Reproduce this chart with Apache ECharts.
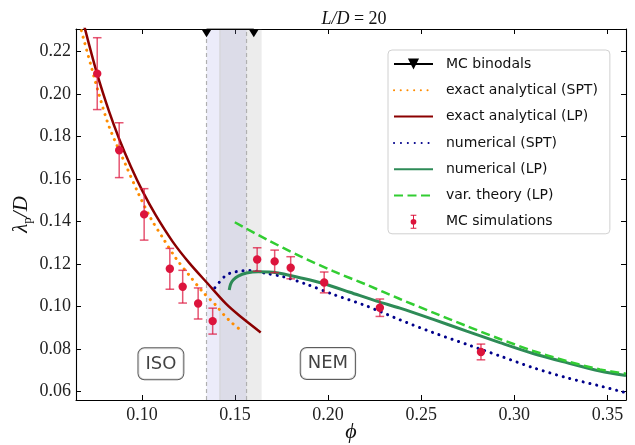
<!DOCTYPE html>
<html>
<head>
<meta charset="utf-8">
<script src="https://cdn.jsdelivr.net/npm/echarts@6/dist/echarts.min.js"></script>
<style>
  html, body { margin: 0; padding: 0; background: #fff; }
  #chart { width: 635px; height: 445px; }
</style>
</head>
<body>
<div id="chart"></div>
<script>
// tick values
const xTicks = [0.10, 0.15, 0.20, 0.25, 0.30, 0.35];
const yTicks = [0.06, 0.08, 0.10, 0.12, 0.14, 0.16, 0.18, 0.20, 0.22];

// curves, [phi, lambda_p/D]
const exactSPT = [[0.065, 0.2389], [0.0672, 0.2307], [0.0726, 0.2134], [0.0771, 0.1993], [0.0824, 0.1845],
  [0.0914, 0.1664], [0.0977, 0.1539], [0.1048, 0.1414], [0.1114, 0.1320], [0.1183, 0.1226], [0.1254, 0.1147],
  [0.1326, 0.1069], [0.1397, 0.1006], [0.1442, 0.0959], [0.1482, 0.0924], [0.1541, 0.0881]];
const exactLP = [[0.0665, 0.2415], [0.0695, 0.2303], [0.0757, 0.2101], [0.0824, 0.1916], [0.0878, 0.1788],
  [0.0941, 0.1657], [0.1004, 0.1541], [0.1075, 0.1428], [0.1165, 0.1305], [0.1254, 0.1205], [0.1353, 0.1108],
  [0.1451, 0.1013], [0.1526, 0.0955], [0.1638, 0.0878]];
const numSPT = [[0.1392, 0.1088], [0.1446, 0.1143], [0.1482, 0.1159], [0.1526, 0.1166], [0.1580, 0.1169],
  [0.1670, 0.1155], [0.1759, 0.1140], [0.1885, 0.1104], [0.2027, 0.1057], [0.2207, 0.1002], [0.2386, 0.0937],
  [0.2564, 0.0877], [0.2744, 0.0822], [0.2923, 0.0767], [0.3101, 0.0712], [0.3281, 0.0665], [0.3460, 0.0626],
  [0.3600, 0.0594]];
const numLP = [[0.1469, 0.1077], [0.1476, 0.1104], [0.1490, 0.1124], [0.1517, 0.1143], [0.1562, 0.1157],
  [0.1625, 0.1163], [0.1723, 0.1159], [0.1849, 0.1135], [0.1974, 0.1108], [0.2117, 0.1067], [0.2260, 0.1025],
  [0.2386, 0.0992], [0.2565, 0.0939], [0.2744, 0.0884], [0.2923, 0.0830], [0.3101, 0.0779], [0.3281, 0.0736],
  [0.3460, 0.0696], [0.3600, 0.0675]];
const varLP = [[0.1499, 0.1396], [0.1670, 0.1315], [0.1849, 0.1237], [0.2027, 0.1166], [0.2207, 0.1102],
  [0.2386, 0.1035], [0.2565, 0.0971], [0.2744, 0.0908], [0.2923, 0.0847], [0.3101, 0.0791], [0.3281, 0.0743],
  [0.3460, 0.0704], [0.3600, 0.0684]];

// MC data
const binodalPhi = [0.1347, 0.1601];
const mcPhi = [0.0760, 0.0878, 0.1012, 0.1150, 0.1219, 0.1302, 0.1380, 0.1619, 0.1713, 0.1799, 0.1979, 0.2278, 0.2821];
const mcLam = [0.2095, 0.1735, 0.1433, 0.1177, 0.1093, 0.1014, 0.0931, 0.1221, 0.1212, 0.1182, 0.1113, 0.0994, 0.0786];
const mcErr = [0.0169, 0.0129, 0.0121, 0.0096, 0.0077, 0.0073, 0.0061, 0.0055, 0.0053, 0.0052, 0.0049, 0.0041, 0.0037];

// coexistence bands and region labels
const blueBand = [0.1347, 0.1562];
const greyBand = [0.1419, 0.1643];
const regionNames = ['ISO', 'NEM'];
const regionPhi = [0.1102, 0.1999];
const regionLam = [0.0730, 0.0732];

const X_MIN = 0.0646, X_MAX = 0.360, Y_MIN = 0.056, Y_MAX = 0.2305;
const serif = 'Liberation Serif, DejaVu Serif, serif';
const sans = 'DejaVu Sans, sans-serif';

var chart = echarts.init(document.getElementById('chart'));

const fmt2 = v => v.toFixed(2);
const tickStyle = { inside: true, length: 5, lineStyle: { color: '#000', width: 1 } };

function xAx(pos, showLabels) {
  return {
    type: 'value', position: pos, min: X_MIN, max: X_MAX,
    axisLine: { show: true, onZero: false, lineStyle: { color: '#000', width: 1.1 } },
    axisTick: Object.assign({ customValues: xTicks }, tickStyle),
    axisLabel: { show: showLabels, customValues: xTicks, formatter: fmt2, color: '#222',
      fontFamily: serif, fontSize: 18, margin: 6 },
    splitLine: { show: false },
    name: showLabels ? '{i|ϕ}' : '', nameLocation: 'middle', nameGap: 21, nameMoveOverlap: false,
    nameTextStyle: { rich: { i: { fontFamily: serif, fontStyle: 'italic', fontSize: 22, color: '#111' } } }
  };
}
function yAx(pos, showLabels) {
  return {
    type: 'value', position: pos, min: Y_MIN, max: Y_MAX,
    axisLine: { show: true, onZero: false, lineStyle: { color: '#000', width: 1.1 } },
    axisTick: Object.assign({ customValues: yTicks }, tickStyle),
    axisLabel: { show: showLabels, customValues: yTicks, formatter: fmt2, color: '#222',
      fontFamily: serif, fontSize: 18, margin: 5 },
    splitLine: { show: false },
    name: showLabels ? '{i|λ}{s|p}{i|/D}' : '', nameLocation: 'middle', nameGap: 42, nameRotate: 90,
    nameMoveOverlap: false,
    nameTextStyle: { rich: {
      i: { fontFamily: serif, fontStyle: 'italic', fontSize: 21, lineHeight: 26, verticalAlign: 'middle', color: '#111' },
      s: { fontFamily: serif, fontSize: 13, lineHeight: 13, verticalAlign: 'bottom', color: '#111' }
    } }
  };
}

function curve(name, data, color, width, type, cap) {
  return {
    name: name, type: 'line', data: data, smooth: 0.3, symbol: 'none', z: 3,
    lineStyle: { color: color, width: width, type: type, cap: cap || 'butt' },
    itemStyle: { color: color }
  };
}
function vline(phi, color, type, width) {
  return {
    type: 'line', data: [[phi, Y_MIN], [phi, Y_MAX]], symbol: 'none', z: 2, silent: true,
    lineStyle: { color: color, type: type, width: width }
  };
}
// line entries in the legend: keep the line sample, hide the default dot
const lineItem = name => ({ name: name, itemStyle: { color: 'rgba(0,0,0,0)', borderWidth: 0 } });

const errColor = 'rgba(220,20,60,0.72)';
const bandColors = ['rgba(120,120,220,0.14)', 'rgba(128,128,128,0.15)'];

var option = {
  animation: false,
  title: {
    text: '{i|L/D}{r| = 20}', left: 349, top: 5, textAlign: 'center',
    textStyle: { fontWeight: 'normal', rich: {
      i: { fontFamily: serif, fontStyle: 'italic', fontWeight: 'normal', fontSize: 18, color: '#111' },
      r: { fontFamily: serif, fontWeight: 'normal', fontSize: 18, color: '#111' }
    } }
  },
  grid: { left: 76, right: 9, top: 29, bottom: 45, outerBoundsMode: 'none' },
  legend: {
    orient: 'vertical', left: 388, top: 50,
    itemWidth: 39, itemHeight: 14, itemGap: 12.3,
    padding: [7, 12, 5, 5],
    backgroundColor: 'rgba(255,255,255,0.85)', borderColor: '#d0d0d0', borderWidth: 1, borderRadius: 4,
    textStyle: { fontFamily: sans, fontSize: 14, color: '#111', padding: [0, 0, 0, 8], lineHeight: 14 },
    data: ['MC binodals', lineItem('exact analytical (SPT)'), lineItem('exact analytical (LP)'),
      lineItem('numerical (SPT)'), lineItem('numerical (LP)'), lineItem('var. theory (LP)'),
      { name: 'MC simulations',
        icon: 'path://M0,0h9v1.5h-3.75v19h3.75v1.5h-9v-1.5h3.75v-19h-3.75zM9,11a4.5,4.5 0 1,1 -9,0a4.5,4.5 0 1,1 9,0z' }]
  },
  xAxis: [xAx('bottom', true), xAx('top', false)],
  yAxis: [yAx('left', true), yAx('right', false)],
  series: [
    {
      type: 'custom', z: 1, silent: true,
      data: [[blueBand[0], blueBand[1], 0], [greyBand[0], greyBand[1], 1]],
      encode: { x: [0, 1] },
      renderItem: function (params, api) {
        var a = api.coord([api.value(0), Y_MAX]), b = api.coord([api.value(1), Y_MIN]);
        return { type: 'rect', shape: { x: a[0], y: a[1], width: b[0] - a[0], height: b[1] - a[1] },
          style: { fill: bandColors[api.value(2)] } };
      }
    },
    vline(blueBand[0], '#b0b0b0', [4, 3], 1.2),
    vline(blueBand[1], '#b0b0b0', [4, 3], 1.2),
    vline(greyBand[0], '#d2d2d2', 'solid', 1),
    {
      name: 'MC binodals', type: 'line', z: 6,
      data: binodalPhi.map(p => [p, Y_MAX - 0.0001]),
      lineStyle: { color: '#000', width: 1.5 },
      itemStyle: { color: '#000' },
      symbol: 'path://M0,0L10,0L5,8Z', symbolSize: [10, 8], symbolOffset: [0, 4]
    },
    curve('exact analytical (SPT)', exactSPT, '#ff8c00', 3, [0.1, 6.6], 'round'),
    curve('exact analytical (LP)', exactLP, '#8b0000', 2.5, 'solid'),
    curve('numerical (SPT)', numSPT, '#00008b', 3, [0.1, 6.8], 'round'),
    curve('numerical (LP)', numLP, '#2e8b57', 3, 'solid'),
    curve('var. theory (LP)', varLP, '#32cd32', 2.5, [9, 4.5]),
    {
      name: 'MC simulations', type: 'custom', z: 5,
      itemStyle: { color: '#dc143c' },
      data: mcPhi.map((p, i) => [p, mcLam[i], mcErr[i]]),
      encode: { x: 0, y: 1 },
      renderItem: function (params, api) {
        var x = api.value(0), y = api.value(1), e = api.value(2);
        var t = api.coord([x, y + e]), b = api.coord([x, y - e]), c = api.coord([x, y]);
        var cw = 4.3;
        var ls = { stroke: errColor, lineWidth: 1.5 };
        return {
          type: 'group',
          children: [
            { type: 'line', shape: { x1: t[0], y1: t[1], x2: b[0], y2: b[1] }, style: ls },
            { type: 'line', shape: { x1: t[0] - cw, y1: t[1], x2: t[0] + cw, y2: t[1] }, style: ls },
            { type: 'line', shape: { x1: b[0] - cw, y1: b[1], x2: b[0] + cw, y2: b[1] }, style: ls },
            { type: 'circle', shape: { cx: c[0], cy: c[1], r: 4.2 }, style: { fill: '#dc143c' } }
          ]
        };
      }
    },
    {
      name: 'regions', type: 'scatter', z: 7, symbolSize: 0, silent: true,
      data: regionNames.map((n, i) => ({ name: n, value: [regionPhi[i], regionLam[i]] })),
      label: {
        show: true, position: 'inside', formatter: '{b}',
        fontFamily: sans, fontSize: 18, color: '#111', lineHeight: 20,
        backgroundColor: '#fff', borderColor: '#333', borderWidth: 1, borderRadius: 6,
        padding: [6, 7, 5, 7]
      }
    }
  ]
};
chart.setOption(option);
</script>
</body>
</html>
